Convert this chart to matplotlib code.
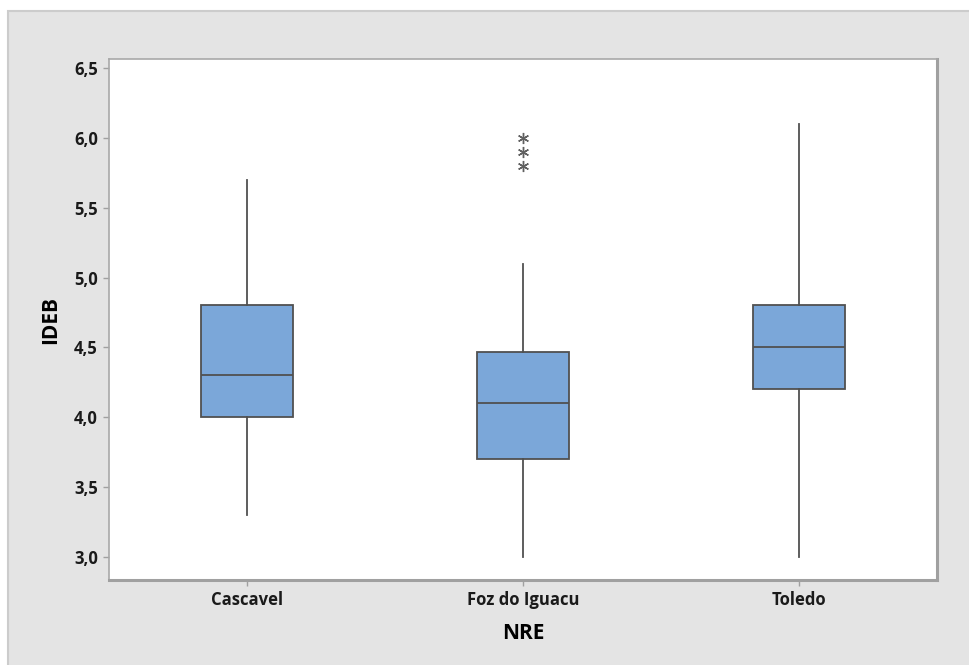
import matplotlib
matplotlib.use("Agg")
import matplotlib.pyplot as plt
from matplotlib.patches import Rectangle

# boxplot summary (IDEB by NRE)
groups = ["Cascavel", "Foz do Iguacu", "Toledo"]
q1 = [4.0, 3.7, 4.2]
med = [4.3, 4.1, 4.5]
q3 = [4.8, 4.47, 4.8]
whislo = [3.3, 3.0, 3.0]
whishi = [5.7, 5.1, 6.1]
fliers = [[], [5.8, 5.9, 6.0], []]

yticks = [3.0, 3.5, 4.0, 4.5, 5.0, 5.5, 6.0, 6.5]

plt.rcParams['font.family'] = ['Open Sans', 'DejaVu Sans']

fig = plt.figure(figsize=(9.69, 6.65), dpi=100)
fig.patch.set_facecolor("white")

# grey background panel like Minitab (runs off the right and bottom edges)
panel = Rectangle((8 / 969, -0.05), 1.1, 0.05 + (665 - 11) / 665, transform=fig.transFigure,
                  facecolor="#e4e4e4", edgecolor="#cccccc", linewidth=1.5, zorder=-5)
fig.patches.append(panel)

ax = fig.add_axes([109 / 969, (665 - 580) / 665, (937 - 109) / 969, (580 - 59) / 665])
ax.set_facecolor("white")

stats = []
for i, g in enumerate(groups):
    stats.append(dict(label=g, q1=q1[i], med=med[i], q3=q3[i],
                      whislo=whislo[i], whishi=whishi[i], fliers=fliers[i]))

ax.bxp(stats, positions=[1, 2, 3], widths=0.333, patch_artist=True, showcaps=False,
       boxprops=dict(facecolor="#7ba7d9", edgecolor="#505050", linewidth=1.3),
       medianprops=dict(color="#505050", linewidth=1.3),
       whiskerprops=dict(color="#505050", linewidth=1.3),
       flierprops=dict(marker=(6, 2, 0), markersize=8, markeredgecolor="#606060",
                       markerfacecolor="#606060", markeredgewidth=1.0, linestyle="none"))

ax.set_xlim(0.5, 3.5)
ax.set_ylim(2.835, 6.564)
ax.set_yticks(yticks)
ax.set_yticklabels([f"{v:.1f}".replace(".", ",") for v in yticks])
ax.set_xticks([1, 2, 3])
ax.set_xticklabels(groups)

for side in ["left", "top"]:
    ax.spines[side].set_color("#a8a8a8")
    ax.spines[side].set_linewidth(1.2)
for side in ["right", "bottom"]:
    ax.spines[side].set_color("#a0a0a0")
    ax.spines[side].set_linewidth(2.2)

ax.tick_params(axis="both", direction="out", length=4, width=1, color="#a0a0a0",
               labelsize=12, pad=4)
for lab in ax.get_xticklabels() + ax.get_yticklabels():
    lab.set_fontweight("bold")
    lab.set_color("#1a1a1a")

ax.set_xlabel("NRE", fontsize=15, fontweight="bold", labelpad=10)
ax.set_ylabel("IDEB", fontsize=15, fontweight="bold", labelpad=9)

fig.savefig("out.png", dpi=100, facecolor=fig.get_facecolor())
